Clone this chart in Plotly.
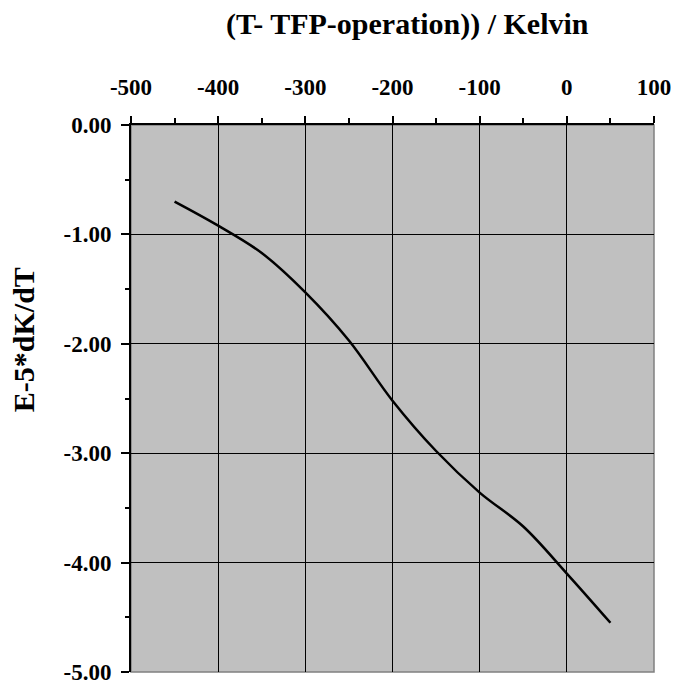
import plotly.graph_objects as go

# Temperature offset from operating point (K) and the coefficient curve
delta_t = [-450, -400, -350, -300, -250, -200, -150, -100, -50, 0, 50]
dk_dt = [-0.70, -0.92, -1.17, -1.53, -1.97, -2.52, -2.98, -3.36, -3.67, -4.10, -4.55]

x_tickvals = [-500, -400, -300, -200, -100, 0, 100]
x_ticktext = ["-500", "-400", "-300", "-200", "-100", "0", "100"]
y_tickvals = [0, -1, -2, -3, -4, -5]
y_ticktext = ["0.00", "-1.00", "-2.00", "-3.00", "-4.00", "-5.00"]

FONT = "Liberation Serif, Times New Roman, serif"

fig = go.Figure()
fig.add_trace(go.Scatter(
    x=delta_t, y=dk_dt, mode="lines",
    line=dict(color="black", width=2.5, shape="spline", smoothing=1.0),
    showlegend=False, hoverinfo="skip",
))

fig.update_layout(
    width=683, height=697,
    margin=dict(l=131, r=25, t=125, b=19),
    paper_bgcolor="white",
    plot_bgcolor="#c0c0c0",
    font=dict(family=FONT, color="black"),
    shapes=[dict(type="rect", xref="paper", yref="paper", x0=0, x1=1, y0=0, y1=1,
                 line=dict(color="#808080", width=1.5), layer="below")],
    annotations=[
        dict(text="<b>(T- TFP-operation)) / Kelvin</b>", xref="paper", yref="paper",
             x=0.528, y=1.184, xanchor="center", yanchor="middle", showarrow=False,
             font=dict(family=FONT, size=30, color="black")),
        dict(text="<b>E-5*dK/dT</b>", xref="paper", yref="paper",
             x=-0.205, y=0.608, xanchor="center", yanchor="middle", showarrow=False,
             textangle=-90, font=dict(family=FONT, size=30, color="black")),
    ],
)

fig.update_xaxes(
    range=[-500, 100], side="top",
    tickvals=x_tickvals, ticktext=x_ticktext,
    tickfont=dict(family=FONT, size=23, color="black", weight="bold"),
    ticks="outside", ticklen=7, tickwidth=2, tickcolor="black",
    minor=dict(dtick=50, tick0=0, ticks="outside", ticklen=5, tickwidth=2,
               tickcolor="black", showgrid=False),
    showline=True, linecolor="black", linewidth=2,
    showgrid=True, gridcolor="black", gridwidth=1,
    zeroline=False, ticklabelstandoff=12,
)
fig.update_yaxes(
    range=[-5, 0],
    tickvals=y_tickvals, ticktext=y_ticktext,
    tickfont=dict(family=FONT, size=23, color="black", weight="bold"),
    ticks="outside", ticklen=8, tickwidth=2, tickcolor="black",
    minor=dict(dtick=0.5, tick0=0, ticks="outside", ticklen=4, tickwidth=2,
               tickcolor="black", showgrid=False),
    showline=True, linecolor="black", linewidth=2,
    showgrid=True, gridcolor="black", gridwidth=1,
    zeroline=False, ticklabelstandoff=5,
)

fig.write_html("out.html")
